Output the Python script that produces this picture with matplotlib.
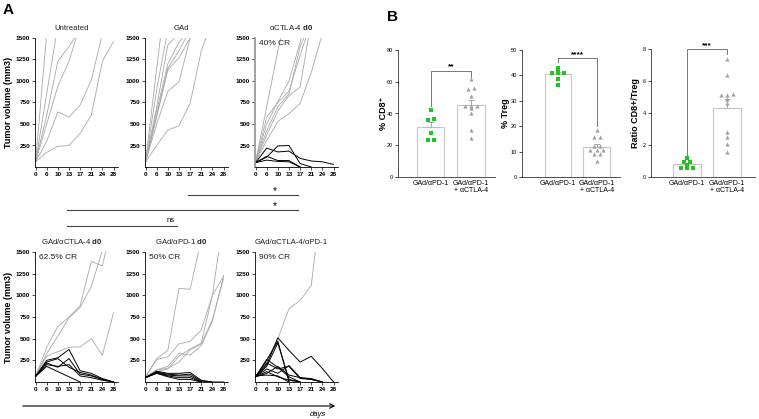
import numpy as np
import matplotlib.pyplot as plt

plt.rcParams['font.family'] = ['Liberation Sans', 'DejaVu Sans']
plt.rcParams['mathtext.fontset'] = 'custom'
plt.rcParams['mathtext.rm'] = 'Liberation Sans'
plt.rcParams['mathtext.bf'] = 'Liberation Sans:bold'

W, H = 759, 419
fig = plt.figure(figsize=(W / 100, H / 100), dpi=100)

# ---- panel A data: tumor volume per mouse (mm3), day index 0..7
days = ["0", "6", "10", "13", "17", "21", "24", "28"]

untreated_prog = [
    [60, 1550],
    [60, 850, 1650],
    [60, 600, 1230, 1400, 1600],
    [60, 500, 940, 1230, 1650],
    [60, 300, 640, 580, 720, 1010, 1550],
    [60, 170, 240, 250, 390, 600, 1230, 1460],
]
untreated_cr = []

gad_prog = [
    [60, 1150, 2200],
    [60, 900, 1600],
    [60, 700, 1420, 1550],
    [60, 650, 1200, 1450, 1600],
    [60, 600, 1150, 1350, 1600],
    [60, 580, 1130, 1270, 1500],
    [60, 500, 880, 990, 1500],
    [60, 250, 430, 480, 740, 1350, 1700],
]
gad_cr = []

ctla_prog = [
    [60, 700, 1350, 1900],
    [60, 580, 750, 880, 1300, 1700],
    [60, 420, 700, 850, 1400, 1700],
    [60, 370, 650, 830, 930, 1700],
    [60, 310, 530, 620, 740, 1100, 1550],
    [60, 500, 760, 1000, 1450, 1900],
]
ctla_cr = [
    [50, 220, 175, 185, 100, 70, 60, 30],
    [50, 115, 245, 250, 40, 0],
    [50, 125, 75, 75, 0],
    [50, 80, 65, 60, 0],
]

gctla_prog = [
    [65, 400, 640, 750, 880, 1390, 1340, 1900],
    [65, 330, 530, 740, 860, 1100, 1520],
    [65, 300, 350, 400, 405, 500, 310, 800],
]
gctla_cr = [
    [65, 250, 280, 375, 130, 100, 40, 0],
    [65, 230, 270, 170, 110, 80, 30, 0],
    [65, 220, 170, 270, 90, 70, 30, 0],
    [65, 200, 180, 200, 70, 50, 20, 0],
    [65, 180, 120, 60, 0],
]

gpd1_prog = [
    [60, 270, 365, 1080, 1070, 1640],
    [60, 260, 290, 440, 470, 600, 1000, 1900],
    [60, 140, 180, 330, 310, 420, 700, 1230],
    [60, 140, 160, 230, 370, 440, 720, 1190],
    [60, 120, 150, 300, 380, 450, 1000, 1220],
]
gpd1_cr = [
    [50, 125, 100, 100, 110, 20, 0, 0],
    [50, 115, 90, 80, 90, 10, 0],
    [50, 110, 80, 70, 70, 0],
    [50, 105, 70, 50, 50, 0],
    [50, 100, 60, 30, 30, 0],
]

triple_prog = [
    [60, 250, 500, 845, 940, 1115, 2200],
]
triple_cr = [
    [60, 200, 510, 365, 230, 296, 155, 0],
    [60, 250, 470, 0],
    [60, 180, 450, 30, 0],
    [60, 260, 170, 60, 0],
    [60, 220, 150, 180, 40, 30, 0],
    [60, 150, 100, 190, 50, 40, 0],
    [60, 100, 180, 80, 50, 30, 0],
    [60, 120, 60, 20, 0],
    [70, 80, 70, 0],
]

# ---- panel B data
cd8_gp = [42.2, 36.5, 36.0, 28.0, 23.5, 23.5]
cd8_gpc = [61.7, 55.9, 55.3, 51.2, 45, 45, 45, 43.3, 40.5, 29.6, 24.8]
treg_gp = [43, 42, 41, 41, 41, 38.5, 36.2]
treg_gpc = [18.5, 15.8, 15.8, 12.3, 12.3, 10.6, 10.6, 10.6, 9.2, 9.0, 6.4]
ratio_gp = [1.2, 0.95, 0.95, 0.75, 0.55, 0.55, 0.55]
ratio_gpc = [7.4, 6.4, 5.2, 5.1, 5.1, 4.9, 4.6, 2.8, 2.5, 2.05, 1.55]
group_labels = ["GAd/\u03b1PD-1", "GAd/\u03b1PD-1\n+ \u03b1CTLA-4"]


def px_axes(x0, y0, x1, y1):
    return fig.add_axes([x0 / W, 1 - y1 / H, (x1 - x0) / W, (y1 - y0) / H])


# overlay in pixel coordinates for annotations
ov = fig.add_axes([0, 0, 1, 1])
ov.set_xlim(0, W)
ov.set_ylim(H, 0)
ov.axis('off')


def growth(ax, prog, cr, title, note=None, gray_axis=False):
    for v in prog:
        ax.plot(range(len(v)), v, color='#A8A8A8', lw=0.6)
    for v in cr:
        ax.plot(range(len(v)), v, color='black', lw=0.7)
    ax.set_xlim(-0.05, 7.4)
    ax.set_ylim(0, 1500)
    ax.set_xticks(range(8))
    ax.set_xticklabels(days)
    ax.set_yticks([250, 500, 750, 1000, 1250, 1500])
    for s in ['top', 'right']:
        ax.spines[s].set_visible(False)
    for s in ['left', 'bottom']:
        ax.spines[s].set_linewidth(0.6)
    if gray_axis:
        ax.spines['left'].set_color('#9A9A9A')
        ax.spines['left'].set_linewidth(1.3)
    ax.tick_params(length=2, width=0.5, pad=1.5, labelsize=4.6)
    for lab in ax.get_xticklabels() + ax.get_yticklabels():
        lab.set_fontweight('bold')
    ax.set_title(title, fontsize=5.6, x=0.44, pad=6, color='#222222')
    if note:
        ax.text(0.05, 0.985, note, transform=ax.transAxes, fontsize=6,
                va='top', ha='left', color='#222222')


tops = [(38, 167), (252, 382)]
lefts = [35, 145, 255]
panels = [
    (untreated_prog, untreated_cr, "Untreated", None, False),
    (gad_prog, gad_cr, "GAd", None, False),
    (ctla_prog, ctla_cr, "\u03b1CTLA-4 $\\mathbf{d0}$", "40% CR", True),
    (gctla_prog, gctla_cr, "GAd/\u03b1CTLA-4 $\\mathbf{d0}$", "62.5% CR", False),
    (gpd1_prog, gpd1_cr, "GAd/\u03b1PD-1 $\\mathbf{d0}$", "50% CR", False),
    (triple_prog, triple_cr, "GAd/\u03b1CTLA-4/\u03b1PD-1", "90% CR", False),
]
for k, (p, c, t, n, g) in enumerate(panels):
    y0, y1 = tops[k // 3]
    x0 = lefts[k % 3]
    ax = px_axes(x0, y0, x0 + 83, y1)
    growth(ax, p, c, t, n, g)

for yc in [102, 317]:
    ov.text(9, yc, "Tumor volume (mm3)", rotation=90, ha='center', va='center',
            fontsize=6.5, fontweight='bold')

# significance lines between groups
sig_col = '#444444'
ov.plot([188, 298], [195, 195], color=sig_col, lw=0.8)
ov.text(275, 191, '*', ha='center', va='center', fontsize=7.5)
ov.plot([67, 298], [210, 210], color=sig_col, lw=0.8)
ov.text(275, 206, '*', ha='center', va='center', fontsize=7.5)
ov.plot([67, 177], [226, 226], color=sig_col, lw=0.8)
ov.text(171, 220, 'ns', ha='center', va='center', fontsize=5.5)

# days arrow
ov.annotate('', xy=(338, 406), xytext=(20, 406),
            arrowprops=dict(arrowstyle='->', color='black', lw=0.8,
                            mutation_scale=8))
ov.text(318, 414, 'days', ha='center', va='center', fontsize=5.5, style='italic')

ov.text(8, 10, 'A', fontsize=11, fontweight='bold', ha='center', va='center')
ov.text(392, 17, 'B', fontsize=11, fontweight='bold', ha='center', va='center')


def spread(vals, tol, step=0.16):
    vals = np.asarray(vals, float)
    order = np.argsort(vals)
    off = np.zeros(len(vals))
    groups = []
    for idx in order:
        if groups and vals[idx] - vals[groups[-1][0]] <= tol:
            groups[-1].append(idx)
        else:
            groups.append([idx])
    for g in groups:
        for j, idx in enumerate(g):
            off[idx] = (j - (len(g) - 1) / 2) * step
    return off


def barpanel(ax, g1, g2, ylim, yticks, tol, stars, bracket, xlim):
    styles = [('s', '#22C322', 3.3, g1), ('^', '#A0A0A0', 3.0, g2)]
    for i, (mk, col, ms, vals) in enumerate(styles):
        vals = np.asarray(vals, float)
        m = vals.mean()
        sem = vals.std(ddof=1) / np.sqrt(len(vals))
        ax.bar(i, m, width=0.68, color='white', edgecolor='#C8C8C8', lw=0.8, zorder=1)
        ax.errorbar(i, m, yerr=[[0], [sem]], color='#999999', lw=0.6, capsize=2.5,
                    capthick=0.6, zorder=2)
        ax.plot([i - 0.2, i + 0.2], [m, m], color='#BBBBBB', lw=0.6, zorder=2)
        ax.plot(i + spread(vals, tol), vals, mk, color=col, ms=ms, mew=0,
                zorder=3, clip_on=False)
    yb, l0, r0 = bracket
    ax.plot([0, 0, 1, 1], [l0, yb, yb, r0], color='#777777', lw=0.7, clip_on=False)
    ax.text(0.5, yb, stars, ha='center', va='bottom', fontsize=6, fontweight='bold')
    ax.set_xlim(*xlim)
    ax.set_ylim(*ylim)
    ax.set_yticks(yticks)
    ax.set_xticks([0, 1])
    ax.set_xticklabels(group_labels, fontsize=5, linespacing=1.1)
    ax.tick_params(axis='y', length=2, width=0.5, pad=1.5, labelsize=4)
    ax.tick_params(axis='x', length=0, pad=2)
    for s in ['top', 'right']:
        ax.spines[s].set_visible(False)
    for s in ['left', 'bottom']:
        ax.spines[s].set_linewidth(0.6)
        ax.spines[s].set_color('#333333')


b1 = px_axes(398, 50, 495, 177)
barpanel(b1, cd8_gp, cd8_gpc, (0, 80), [0, 20, 40, 60, 80], 1.0, '**', (67, 44.5, 63), (-0.82, 1.6))
b2 = px_axes(522, 50, 620, 177)
barpanel(b2, treg_gp, treg_gpc, (0, 50), [0, 10, 20, 30, 40, 50], 0.5, '****', (46.7, 45.3, 20), (-0.92, 1.6))
b3 = px_axes(651, 49, 755, 177)
barpanel(b3, ratio_gp, ratio_gpc, (0, 8), [0, 2, 4, 6, 8], 0.12, '***', (8.0, 1.4, 7.7), (-0.9, 1.7))

for xc, lab in [(383, '% CD8\u207a'), (505, '% Treg'), (635, 'Ratio CD8+/Treg')]:
    ov.text(xc, 113, lab, rotation=90, ha='center', va='center', fontsize=6.5,
            fontweight='bold')

fig.savefig('out.png', dpi=100)
